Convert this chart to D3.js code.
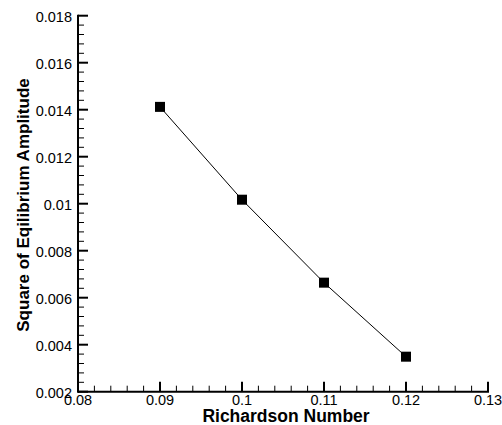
<!DOCTYPE html>
<html><head><meta charset="utf-8">
<script src="https://cdn.jsdelivr.net/npm/d3@7"></script>
<style>body{margin:0;background:#fff;} svg{display:block;}</style>
</head><body>
<svg id="c" width="502" height="425"></svg>
<script>
const richardson = [0.09, 0.10, 0.11, 0.12];
const amplitudeSq = [0.01412, 0.01017, 0.00664, 0.00349];
const xTicks = [0.08, 0.09, 0.10, 0.11, 0.12, 0.13];
const xTickLabels = ["0.08", "0.09", "0.1", "0.11", "0.12", "0.13"];
const yTicks = [0.002, 0.004, 0.006, 0.008, 0.010, 0.012, 0.014, 0.016, 0.018];
const yTickLabels = ["0.002", "0.004", "0.006", "0.008", "0.01", "0.012", "0.014", "0.016", "0.018"];

const svg = d3.select("#c");
const font = "Liberation Sans, Arial, sans-serif";
const x = d3.scaleLinear().domain([0.08, 0.13]).range([78, 488]);
const y = d3.scaleLinear().domain([0.002, 0.018]).range([391.7, 15.7]);

const xMinor = d3.range(0, 26).map(i => 0.08 + i * 0.002).filter((v, i) => i % 5 !== 0);
const yMinor = d3.range(0, 41).map(i => 0.002 + i * 0.0004).filter((v, i) => i % 5 !== 0);

const g = svg.append("g");
g.selectAll(".xm").data(xMinor).join("line")
  .attr("x1", d => x(d)).attr("x2", d => x(d))
  .attr("y1", y(0.002)).attr("y2", y(0.002) - 6)
  .attr("stroke", "#000").attr("stroke-width", 1);
g.selectAll(".ym").data(yMinor).join("line")
  .attr("y1", d => y(d)).attr("y2", d => y(d))
  .attr("x1", x(0.08)).attr("x2", x(0.08) + 6)
  .attr("stroke", "#000").attr("stroke-width", 1);
g.selectAll(".xM").data(xTicks).join("line")
  .attr("x1", d => x(d)).attr("x2", d => x(d))
  .attr("y1", y(0.002)).attr("y2", y(0.002) - 10)
  .attr("stroke", "#000").attr("stroke-width", 2);
g.selectAll(".yM").data(yTicks).join("line")
  .attr("y1", d => y(d)).attr("y2", d => y(d))
  .attr("x1", x(0.08)).attr("x2", x(0.08) + 10)
  .attr("stroke", "#000").attr("stroke-width", 2);
g.append("line").attr("x1", x(0.08)).attr("x2", x(0.13) + 1)
  .attr("y1", y(0.002)).attr("y2", y(0.002)).attr("stroke", "#000").attr("stroke-width", 2);
g.append("line").attr("x1", x(0.08)).attr("x2", x(0.08))
  .attr("y1", y(0.002) + 1).attr("y2", y(0.018) - 1).attr("stroke", "#000").attr("stroke-width", 2);

g.selectAll(".xl").data(xTicks).join("text")
  .attr("x", d => x(d)).attr("y", 405)
  .attr("text-anchor", "middle").attr("font-family", font).attr("font-size", 14.5)
  .text((d, i) => xTickLabels[i]);
g.selectAll(".yl").data(yTicks).join("text")
  .attr("x", 72).attr("y", d => y(d) + 6)
  .attr("text-anchor", "end").attr("font-family", font).attr("font-size", 14.5)
  .text((d, i) => yTickLabels[i]);

svg.append("text").attr("x", 286).attr("y", 422)
  .attr("text-anchor", "middle").attr("font-family", font).attr("font-size", 17.5).attr("font-weight", "bold")
  .text("Richardson Number");
svg.append("text").attr("transform", "translate(28.5,205) rotate(-90)")
  .attr("text-anchor", "middle").attr("font-family", font).attr("font-size", 17).attr("font-weight", "bold")
  .text("Square of Eqilibrium Amplitude");

const pts = richardson.map((r, i) => [r, amplitudeSq[i]]);
svg.append("path").datum(pts)
  .attr("d", d3.line().x(d => x(d[0])).y(d => y(d[1])))
  .attr("fill", "none").attr("stroke", "#000").attr("stroke-width", 1);
svg.selectAll(".pt").data(pts).join("rect")
  .attr("x", d => x(d[0]) - 5).attr("y", d => y(d[1]) - 5)
  .attr("width", 10).attr("height", 10).attr("fill", "#000");
</script>
</body></html>
